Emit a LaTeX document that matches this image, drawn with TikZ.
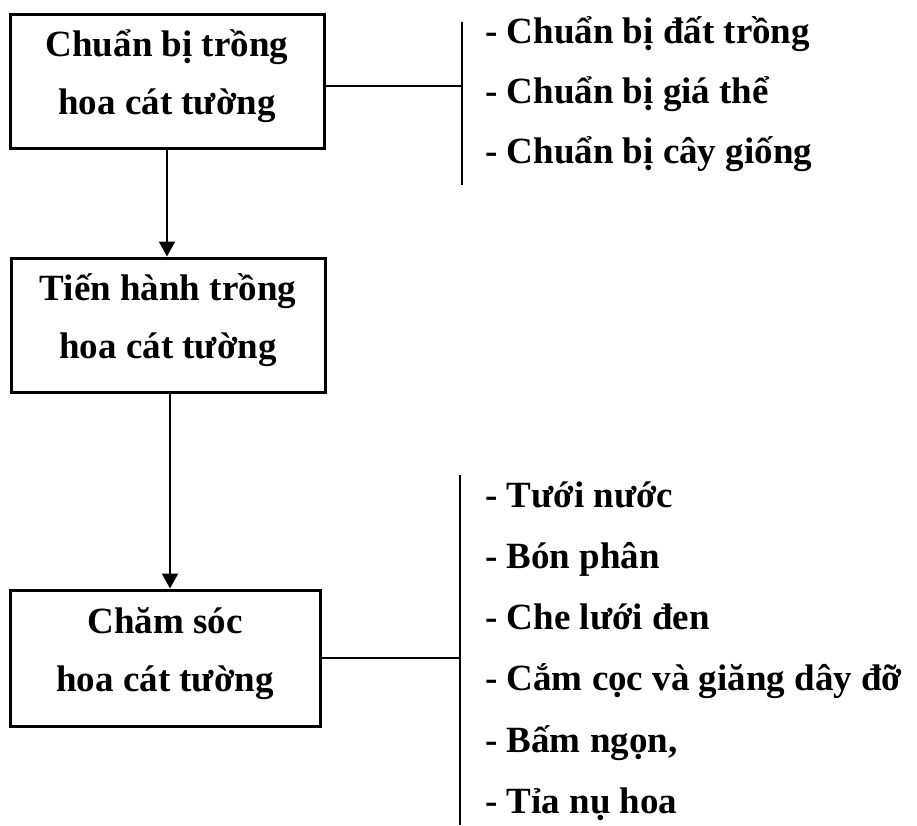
\documentclass[tikz,border=0pt]{standalone}
\usepackage{fontspec}
\setmainfont{Liberation Serif}
\usetikzlibrary{arrows.meta}
\tikzset{
  stage/.style={draw,line width=3pt,minimum width=314pt,minimum height=134pt,
    align=center,text depth=17pt,font=\fontsize{37}{58}\selectfont\bfseries},
  item/.style={anchor=base west,inner sep=0pt,font=\fontsize{37}{44}\selectfont\bfseries},
  link/.style={line width=2pt},
  flow/.style={line width=2pt,-{Triangle[length=15pt,width=16pt]}}
}
\begin{document}
\begin{tikzpicture}[x=1pt,y=-1pt]
\useasboundingbox (0,0) rectangle (917,825);
% the three stages
\node[stage] (prep) at (167,81) {Chuẩn bị trồng\\hoa cát tường};
\node[stage] (plant) at (168,325) {Tiến hành trồng\\hoa cát tường};
\node[stage,minimum width=310pt,minimum height=136pt] (care) at (165,658)
  {Chăm sóc\\hoa cát tường};
\draw[flow] (prep.south) -- (prep.south |- plant.north);
\draw[flow] ([xshift=2pt]plant.south) -- ([xshift=2pt]plant.south |- care.north);
% preparation list
\coordinate (prepTop) at (462,22);
\coordinate (prepBot) at (462,185);
\draw[link] (prepTop) -- (prepBot);
\draw[link] ([yshift=-5pt]prep.east) -- ([yshift=-5pt]prep.east -| prepTop);
\node[item] (prepA) at (485,43) {- Chuẩn bị đất trồng};
\node[item] (prepB) at (485,103) {- Chuẩn bị giá thể};
\node[item] (prepC) at (485,163) {- Chuẩn bị cây giống};
% care list
\coordinate (careTop) at (460,475);
\coordinate (careBot) at (460,825);
\draw[link] (careTop) -- (careBot);
\draw[link] (care.east) -- (care.east -| careTop);
\node[item] (careA) at (485,507) {- Tưới nước};
\node[item] (careB) at (485,568) {- Bón phân};
\node[item] (careC) at (485,629) {- Che lưới đen};
\node[item] (careD) at (485,690) {- Cắm cọc và giăng dây đỡ};
\node[item] (careE) at (485,752) {- Bấm ngọn,};
\node[item] (careF) at (485,813) {- Tỉa nụ hoa};
\end{tikzpicture}
\end{document}
